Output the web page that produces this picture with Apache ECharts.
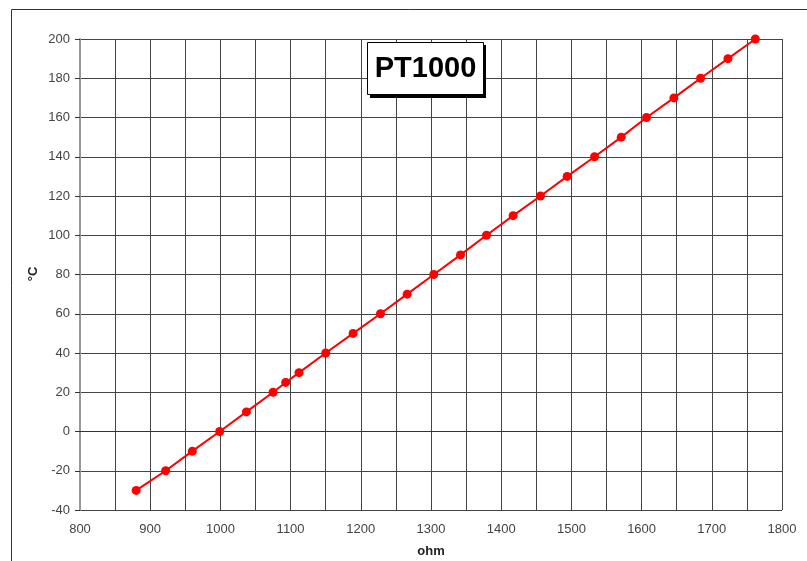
<!DOCTYPE html>
<html>
<head>
<meta charset="utf-8">
<script src="https://cdn.jsdelivr.net/npm/echarts@6/dist/echarts.min.js"></script>
<style>html,body{margin:0;padding:0;background:#fff;overflow:hidden}#c{position:absolute;left:0;top:0;width:807px;height:561px}</style>
</head>
<body>
<div id="c"></div>
<script>
// Data
var temperatures = [-30, -20, -10, 0, 10, 20, 25, 30, 40, 50, 60, 70, 80, 90, 100, 110, 120, 130, 140, 150, 160, 170, 180, 190, 200];
var resistances = [880, 922, 960, 999, 1037, 1075, 1093, 1112, 1150, 1189, 1228, 1266, 1304, 1342, 1379, 1417, 1456, 1494, 1533, 1571, 1607, 1646, 1684, 1723, 1762];
var chartTitle = 'PT1000';
var xName = 'ohm';
var yName = '°C';

var points = resistances.map(function (r, i) { return [r, temperatures[i]]; });

var chart = echarts.init(document.getElementById('c'), null, {renderer: 'canvas', width: 807, height: 561});
chart.setOption({
  animation: false,
  backgroundColor: '#ffffff',
  grid: {left: 80, right: 25, top: 39, bottom: 51, containLabel: false, outerBoundsMode: 'none'},
  xAxis: {
    type: 'value', min: 800, max: 1800, interval: 100,
    name: xName, nameLocation: 'middle', nameGap: 35,
    nameTextStyle: {fontFamily: 'Liberation Sans', fontWeight: 'bold', fontSize: 13, color: '#222'},
    axisLine: {show: true, lineStyle: {color: '#333', width: 1}},
    axisTick: {show: false},
    axisLabel: {fontFamily: 'Liberation Sans', fontSize: 13, color: '#444', margin: 13,
      formatter: function (v) { return String(v); }},
    splitLine: {show: true, lineStyle: {color: '#444', width: 1}},
    minorTick: {show: false, splitNumber: 2},
    minorSplitLine: {show: true, lineStyle: {color: '#444', width: 1}}
  },
  yAxis: {
    type: 'value', min: -40, max: 200, interval: 20,
    axisLine: {show: true, lineStyle: {color: '#999', width: 2}},
    axisTick: {show: true, length: 5, lineStyle: {color: '#333'}},
    axisLabel: {fontFamily: 'Liberation Sans', fontSize: 13, color: '#444', margin: 10,
      formatter: function (v) { return String(v); }},
    splitLine: {show: true, lineStyle: {color: '#444', width: 1}}
  },
  series: [{
    type: 'line',
    data: points,
    symbol: 'circle', symbolSize: 9,
    lineStyle: {color: '#ff0000', width: 2},
    itemStyle: {color: '#ff0000'}
  }],
  graphic: [
    {type: 'rect', x: 11.5, y: 9.5, z: -10, silent: true,
     shape: {x: 0, y: 0, width: 900, height: 700},
     style: {fill: 'none', stroke: '#333', lineWidth: 1}},
    {type: 'text', x: 33, y: 274, rotation: Math.PI / 2, silent: true,
     style: {text: yName, fontFamily: 'Liberation Sans', fontWeight: 'bold', fontSize: 13, fill: '#222', textAlign: 'center', textVerticalAlign: 'middle'}},
    {type: 'rect', x: 370, y: 45, z: 99, silent: true,
     shape: {x: 0, y: 0, width: 116, height: 53},
     style: {fill: '#000'}},
    {type: 'rect', x: 367.5, y: 42.5, z: 100, silent: true,
     shape: {x: 0, y: 0, width: 116, height: 52},
     style: {fill: '#fff', stroke: '#000', lineWidth: 1}},
    {type: 'text', x: 425.5, y: 69, z: 101, silent: true,
     style: {text: chartTitle, fontFamily: 'Liberation Sans', fontWeight: 'bold', fontSize: 29, fill: '#000', textAlign: 'center', textVerticalAlign: 'middle'}}
  ]
});
</script>
</body>
</html>
